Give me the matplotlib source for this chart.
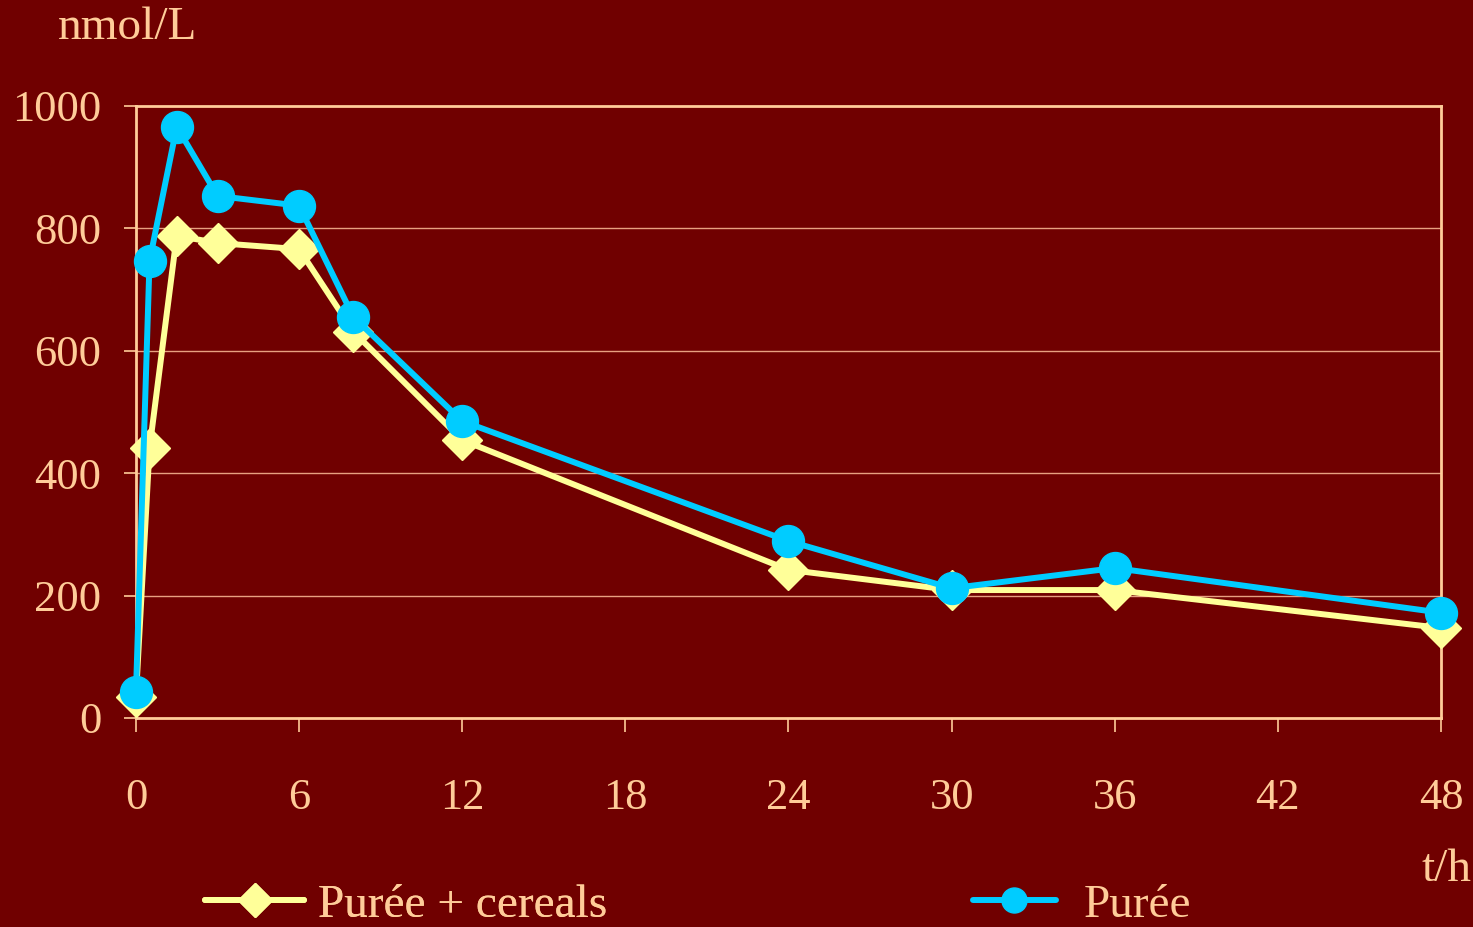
import matplotlib
matplotlib.use("Agg")
import matplotlib.pyplot as plt
from matplotlib.lines import Line2D

# Sampling times (hours) and plasma concentrations (nmol/L)
hours = [0, 0.5, 1.5, 3, 6, 8, 12, 24, 30, 36, 48]
puree_cereals = [35, 441, 788, 776, 766, 631, 454, 242, 209, 209, 147]
puree = [42, 747, 966, 853, 837, 655, 485, 289, 212, 245, 172]

x_ticks = [0, 6, 12, 18, 24, 30, 36, 42, 48]
y_ticks = [0, 200, 400, 600, 800, 1000]
series_labels = ["Purée + cereals", "Purée"]
y_unit = "nmol/L"
x_unit = "t/h"

BG = "#700000"
FG = "#FFCC99"
YELLOW = "#FFFF99"
BLUE = "#00CCFF"

plt.rcParams["font.family"] = ["Liberation Serif", "DejaVu Serif"]

fig = plt.figure(figsize=(14.73, 9.27), dpi=100, facecolor=BG)
ax = fig.add_axes([0.0923, 0.2255, 0.8860, 0.6602], facecolor=BG)

ax.plot(hours, puree_cereals, color=YELLOW, lw=4.3, marker="D", ms=20,
        mec=YELLOW, mfc=YELLOW, zorder=3, clip_on=False)
ax.plot(hours, puree, color=BLUE, lw=4.3, marker="o", ms=23,
        mec=BLUE, mfc=BLUE, zorder=4, clip_on=False)

ax.set_xlim(0, 48)
ax.set_ylim(0, 1000)
ax.set_xticks(x_ticks)
ax.set_yticks(y_ticks)

for y in y_ticks[1:-1]:
    ax.axhline(y, color="#E8A080", lw=1.0, zorder=1)

for side in ["left", "right", "top", "bottom"]:
    ax.spines[side].set_color(FG)
    ax.spines[side].set_linewidth(2.0)

ax.tick_params(axis="both", colors=FG, labelcolor=FG, labelsize=32,
               direction="out", width=1.2)
ax.tick_params(axis="x", length=10, pad=33)
ax.tick_params(axis="y", length=9, pad=16)

fig.text(58 / 1473, 1 - 28 / 927, y_unit, color=FG, fontsize=34,
         ha="left", va="center")
fig.text(1471 / 1473, 1 - 870 / 927, x_unit, color=FG, fontsize=34,
         ha="right", va="center")

h1 = Line2D([], [], color=YELLOW, lw=4.3, marker="D", ms=17,
            mec=YELLOW, mfc=YELLOW, solid_capstyle="round")
h2 = Line2D([], [], color=BLUE, lw=4.3, marker="o", ms=18,
            mec=BLUE, mfc=BLUE, solid_capstyle="round")

leg1 = fig.legend([h1], [series_labels[0]], loc="center left",
                  bbox_to_anchor=(205 / 1473, 1 - 905 / 927), frameon=False,
                  fontsize=34, handlelength=2.1, handletextpad=0.3,
                  labelcolor=FG, borderpad=0, borderaxespad=0)
leg2 = fig.legend([h2], [series_labels[1]], loc="center left",
                  bbox_to_anchor=(973 / 1473, 1 - 905 / 927), frameon=False,
                  fontsize=34, handlelength=1.75, handletextpad=0.6,
                  labelcolor=FG, borderpad=0, borderaxespad=0)
fig.add_artist(leg1)

fig.savefig("out.png", dpi=100, facecolor=BG)
